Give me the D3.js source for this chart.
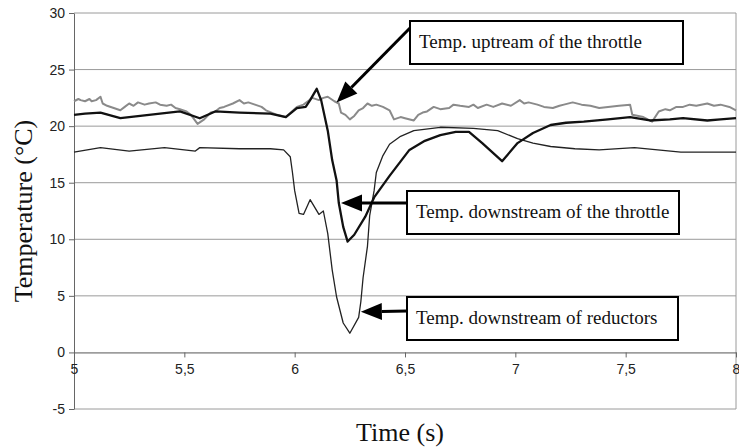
<!DOCTYPE html>
<html>
<head>
<meta charset="utf-8">
<script src="https://cdn.jsdelivr.net/npm/d3@7"></script>
<style>
  body { margin: 0; background: #fff; }
  svg { display: block; }
</style>
</head>
<body>
<div id="chart"></div>
<script>
// values: time (s) and temperature (°C)
const upstreamT = [5.00,5.02,5.03,5.05,5.07,5.08,5.10,5.12,5.13,5.15,5.18,5.21,5.23,5.25,5.27,5.29,5.32,5.34,5.37,5.39,5.42,5.44,5.46,5.48,5.51,5.53,5.56,5.59,5.62,5.64,5.66,5.68,5.72,5.75,5.77,5.79,5.82,5.85,5.87,5.92,5.96,6.01,6.04,6.06,6.08,6.11,6.13,6.15,6.18,6.20,6.21,6.23,6.25,6.27,6.29,6.31,6.33,6.35,6.37,6.40,6.43,6.45,6.48,6.50,6.54,6.56,6.58,6.60,6.63,6.66,6.70,6.72,6.75,6.79,6.81,6.83,6.87,6.90,6.94,6.98,7.02,7.04,7.06,7.10,7.13,7.17,7.20,7.22,7.26,7.30,7.34,7.38,7.42,7.47,7.52,7.53,7.58,7.62,7.65,7.68,7.70,7.73,7.76,7.79,7.82,7.87,7.90,7.93,7.97,8.00];
const upstreamV = [22.2,22.4,22.3,22.2,22.4,22.2,22.3,22.6,22.0,21.8,21.6,21.4,21.7,22.0,21.8,22.1,21.9,22.0,22.1,21.9,21.8,21.9,21.6,21.5,21.3,21.0,20.2,20.6,21.2,21.3,21.6,21.7,22.0,22.3,22.0,22.1,21.9,21.7,21.4,21.0,20.8,21.7,21.9,22.2,22.5,22.3,22.5,22.6,22.2,22.0,21.2,21.0,20.6,20.9,21.4,21.6,22.0,21.8,21.9,21.7,21.4,20.6,20.8,20.7,20.5,21.0,21.2,21.3,21.7,21.5,21.6,21.9,21.8,21.7,21.9,21.6,21.9,21.7,22.0,21.8,22.3,22.0,22.1,21.9,21.7,21.6,21.8,21.9,22.1,21.9,21.8,21.6,21.7,21.8,21.9,21.0,20.8,20.4,21.3,21.5,21.4,21.7,21.7,21.9,21.8,22.0,21.8,21.9,21.7,21.4];

const throttleT = [5.00,5.05,5.12,5.21,5.34,5.48,5.57,5.64,5.75,5.89,5.96,6.01,6.05,6.07,6.10,6.12,6.15,6.17,6.19,6.20,6.22,6.24,6.27,6.32,6.36,6.43,6.52,6.59,6.66,6.73,6.79,6.85,6.94,7.01,7.08,7.16,7.23,7.31,7.42,7.52,7.61,7.70,7.76,7.87,7.93,8.00];
const throttleV = [21.0,21.1,21.2,20.7,21.0,21.3,20.7,21.3,21.2,21.1,20.8,21.6,21.7,22.3,23.3,22.3,19.6,17.0,15.2,13.2,11.1,9.8,10.4,12.0,13.7,15.6,17.9,18.7,19.2,19.5,19.5,18.5,16.9,18.5,19.4,20.1,20.3,20.4,20.6,20.8,20.5,20.6,20.7,20.5,20.6,20.7];

const reductT = [5.00,5.12,5.25,5.41,5.55,5.57,5.75,5.89,5.95,5.98,5.99,6.00,6.02,6.04,6.07,6.11,6.13,6.15,6.17,6.19,6.22,6.25,6.29,6.30,6.31,6.33,6.34,6.36,6.37,6.40,6.43,6.48,6.54,6.66,6.81,6.92,7.01,7.08,7.16,7.27,7.38,7.54,7.75,8.00];
const reductV = [17.7,18.1,17.8,18.1,17.8,18.1,18.0,18.0,17.9,17.3,15.9,14.3,12.3,12.2,13.5,12.2,12.5,10.5,7.3,4.9,2.6,1.7,3.1,4.5,6.6,9.4,12.1,14.3,15.9,17.4,18.4,19.1,19.6,19.9,19.8,19.6,18.9,18.5,18.2,18.0,17.9,18.1,17.7,17.7];

const xTicks = [5,5.5,6,6.5,7,7.5,8];
const xTickLabels = ["5","5,5","6","6,5","7","7,5","8"];
const yTicks = [-5,0,5,10,15,20,25,30];
const yTickLabels = ["-5","0","5","10","15","20","25","30"];

const labels = ["Temp. uptream of the throttle", "Temp. downstream of the throttle", "Temp. downstream of reductors"];
// point of each arrow tip, in data units
const tipT = [6.19, 6.21, 6.30];
const tipV = [22.1, 13.2, 3.6];

const W = 739, H = 447;
const svg = d3.select("#chart").append("svg")
  .attr("width", W).attr("height", H);

const x = d3.scaleLinear().domain([5, 8]).range([74, 736]);
const y = d3.scaleLinear().domain([-5, 30]).range([409, 13]);

// horizontal grid
svg.append("g")
  .selectAll("line")
  .data(yTicks.filter(d => d !== 0))
  .join("line")
  .attr("x1", x(5)).attr("x2", x(8))
  .attr("y1", d => y(d)).attr("y2", d => y(d))
  .attr("stroke", "#9a9a9a").attr("stroke-width", 1);

// right border
svg.append("line")
  .attr("x1", x(8)).attr("x2", x(8)).attr("y1", y(30)).attr("y2", y(-5))
  .attr("stroke", "#9a9a9a");

// y axis
const yAxis = svg.append("g")
  .attr("transform", `translate(${x(5)},0)`)
  .call(d3.axisLeft(y).tickValues(yTicks)
    .tickFormat((d, i) => yTickLabels[i]).tickSize(5).tickSizeOuter(0));
yAxis.select(".domain").attr("stroke", "#666");
yAxis.selectAll(".tick line").attr("stroke", "#666");
yAxis.selectAll("text")
  .attr("font-family", "Liberation Sans, Arial, sans-serif")
  .attr("font-size", 14).attr("fill", "#222").attr("dx", "-1");

// x axis crossing at 0
const xAxis = svg.append("g")
  .attr("transform", `translate(0,${y(0)})`)
  .call(d3.axisBottom(x).tickValues(xTicks)
    .tickFormat((d, i) => xTickLabels[i]).tickSize(5).tickSizeOuter(0));
xAxis.select(".domain").attr("stroke", "#555");
xAxis.selectAll(".tick line").attr("stroke", "#666");
xAxis.selectAll("text")
  .attr("font-family", "Liberation Sans, Arial, sans-serif")
  .attr("font-size", 14).attr("fill", "#222").attr("dy", "0.95em");

// series
const line = d3.line().x(d => x(d[0])).y(d => y(d[1]));
const series = [
  { t: upstreamT, v: upstreamV, color: "#8a8a8a", w: 2 },
  { t: reductT, v: reductV, color: "#222", w: 1.3 },
  { t: throttleT, v: throttleV, color: "#111", w: 2.3 }
];
series.forEach(s => {
  svg.append("path")
    .datum(s.t.map((t, i) => [t, s.v[i]]))
    .attr("fill", "none")
    .attr("stroke", s.color)
    .attr("stroke-width", s.w)
    .attr("stroke-linejoin", "round")
    .attr("d", line);
});

// annotation boxes
const boxes = [
  { x: 410, y: 21, w: 273, h: 43, from: [410, 28] },
  { x: 407, y: 191, w: 272, h: 43, from: [407, 203] },
  { x: 407, y: 297, w: 271, h: 43, from: [407, 311] }
];
boxes.forEach((b, i) => {
  const tx = x(tipT[i]), ty = y(tipV[i]);
  const dx = b.from[0] - tx, dy = b.from[1] - ty;
  const len = Math.hypot(dx, dy), ux = dx / len, uy = dy / len;
  const hl = 21, hw = 8.5;
  const bx = tx + ux * hl, by = ty + uy * hl;
  svg.append("line")
    .attr("x1", b.from[0]).attr("y1", b.from[1])
    .attr("x2", bx).attr("y2", by)
    .attr("stroke", "#000").attr("stroke-width", 3);
  svg.append("polygon")
    .attr("points", [[tx, ty], [bx - uy * hw, by + ux * hw], [bx + uy * hw, by - ux * hw]].join(" "))
    .attr("fill", "#000");
  svg.append("rect")
    .attr("x", b.x).attr("y", b.y).attr("width", b.w).attr("height", b.h)
    .attr("fill", "#fff").attr("stroke", "#000").attr("stroke-width", 2);
  svg.append("text")
    .attr("x", b.x + 9).attr("y", b.y + 27)
    .attr("font-family", "Liberation Serif, Times New Roman, serif")
    .attr("font-size", 19).attr("fill", "#111")
    .text(labels[i]);
});

// axis titles
svg.append("text")
  .attr("transform", `translate(32,${(y(30) + y(-5)) / 2}) rotate(-90)`)
  .attr("text-anchor", "middle")
  .attr("font-family", "Liberation Serif, Times New Roman, serif")
  .attr("font-size", 26).attr("fill", "#111")
  .text("Temperature (°C)");

svg.append("text")
  .attr("x", 400).attr("y", 441)
  .attr("text-anchor", "middle")
  .attr("font-family", "Liberation Serif, Times New Roman, serif")
  .attr("font-size", 26).attr("fill", "#111")
  .text("Time (s)");
</script>
</body>
</html>
